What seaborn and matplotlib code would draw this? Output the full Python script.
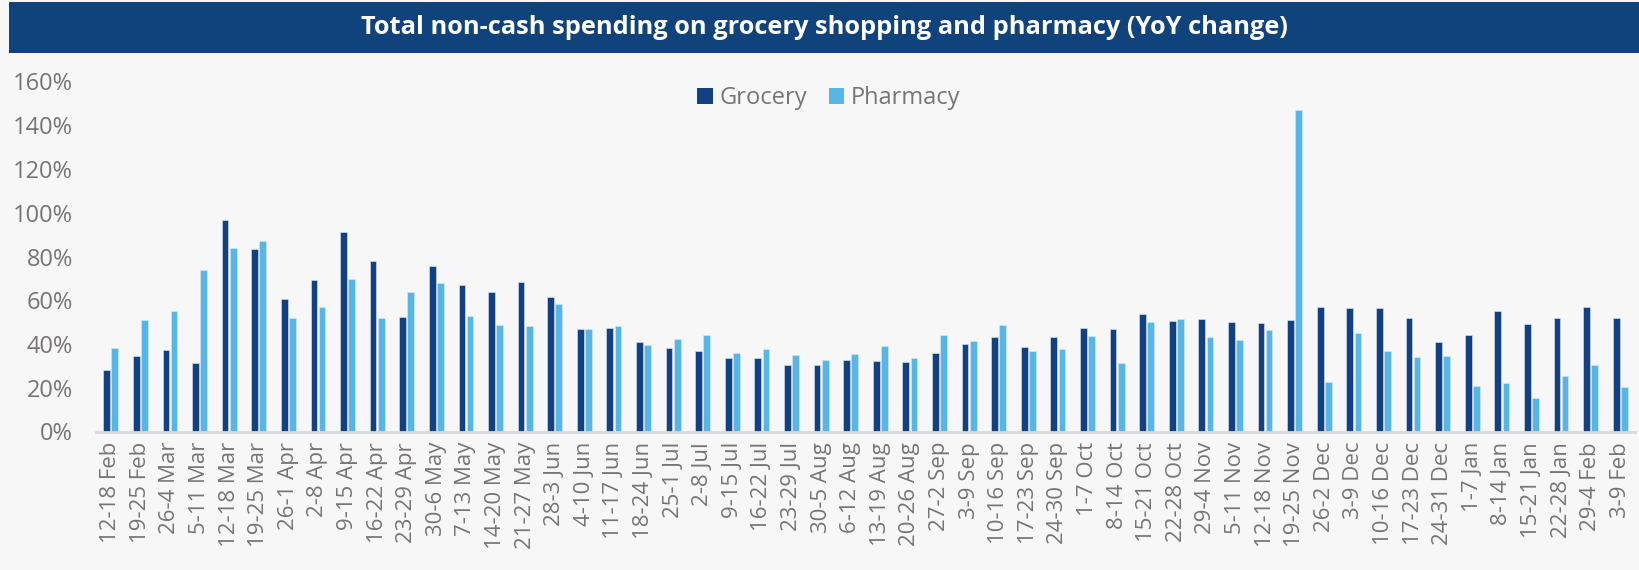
import numpy as np
import pandas as pd
import seaborn as sns
import matplotlib.pyplot as plt
from matplotlib.patches import Rectangle, Patch
from matplotlib.ticker import FuncFormatter, MultipleLocator

# ---------------- data ----------------
weeks = [
    "12-18 Feb", "19-25 Feb", "26-4 Mar", "5-11 Mar", "12-18 Mar", "19-25 Mar",
    "26-1 Apr", "2-8 Apr", "9-15 Apr", "16-22 Apr", "23-29 Apr", "30-6 May",
    "7-13 May", "14-20 May", "21-27 May", "28-3 Jun", "4-10 Jun", "11-17 Jun",
    "18-24 Jun", "25-1 Jul", "2-8 Jul", "9-15 Jul", "16-22 Jul", "23-29 Jul",
    "30-5 Aug", "6-12 Aug", "13-19 Aug", "20-26 Aug", "27-2 Sep", "3-9 Sep",
    "10-16 Sep", "17-23 Sep", "24-30 Sep", "1-7 Oct", "8-14 Oct", "15-21 Oct",
    "22-28 Oct", "29-4 Nov", "5-11 Nov", "12-18 Nov", "19-25 Nov", "26-2 Dec",
    "3-9 Dec", "10-16 Dec", "17-23 Dec", "24-31 Dec", "1-7 Jan", "8-14 Jan",
    "15-21 Jan", "22-28 Jan", "29-4 Feb", "3-9 Feb",
]
grocery = [
    28.2, 34.3, 37.2, 31.1, 96.8, 83.5, 60.6, 69.1, 91.3, 77.8, 52.4, 75.7,
    66.9, 64.0, 68.5, 61.6, 46.9, 47.5, 40.9, 38.0, 36.8, 33.5, 33.5, 30.2,
    30.6, 32.9, 32.2, 31.7, 36.0, 40.0, 43.2, 38.6, 43.0, 47.5, 46.9, 53.8,
    50.4, 51.5, 49.9, 49.6, 51.1, 57.1, 56.4, 56.5, 51.9, 40.7, 44.1, 55.0,
    49.0, 51.8, 56.7, 51.9,
]
pharmacy = [
    38.1, 51.0, 55.0, 73.8, 84.1, 87.3, 51.8, 57.1, 69.8, 51.8, 63.7, 67.8,
    52.7, 48.5, 48.2, 58.2, 46.9, 48.2, 39.5, 42.4, 44.0, 35.7, 37.5, 35.2,
    32.9, 35.4, 39.1, 33.5, 44.0, 41.2, 48.7, 36.8, 37.5, 43.6, 31.1, 49.9,
    51.3, 43.3, 41.8, 46.2, 146.9, 22.5, 45.2, 36.8, 34.0, 34.6, 21.0, 22.4,
    15.3, 25.3, 30.3, 20.2,
]
series_names = ["Grocery", "Pharmacy"]
y_ticks = [0, 20, 40, 60, 80, 100, 120, 140, 160]
title = "Total non-cash spending on grocery shopping and pharmacy (YoY change)"

# ---------------- style ----------------
BG = "#f7f7f7"
BANNER = "#10427c"
C_GROCERY = "#114181"
C_PHARMACY = "#56b6e6"
TXT = "#787474"

sns.set_theme(style="white")
plt.rcParams["font.family"] = ["Open Sans", "DejaVu Sans"]

W, H = 1639, 570
fig = plt.figure(figsize=(W / 100, H / 100), dpi=100, facecolor=BG)

# title banner
fig.patches.append(Rectangle((9 / W, 1 - 53 / H), 1 - 9 / W, 51 / H,
                             transform=fig.transFigure, facecolor=BANNER,
                             edgecolor="none", zorder=0))
fig.text(824 / W, 1 - 28 / H, title, color="white", fontsize=18.3,
         fontweight="bold", ha="center", va="center")

ax = fig.add_axes([96 / W, 1 - 431.5 / H, (1635 - 96) / W, (431.5 - 81.5) / H])
ax.set_facecolor(BG)

n = len(weeks)
df = pd.DataFrame({
    "week": weeks * 2,
    "value": grocery + pharmacy,
    "series": [series_names[0]] * n + [series_names[1]] * n,
})

sns.barplot(data=df, x="week", y="value", hue="series", order=weeks,
            hue_order=series_names, palette=[C_GROCERY, C_PHARMACY],
            width=0.55, gap=0.17, ax=ax, legend=False,
            edgecolor="#dfe7f0", linewidth=0.4, saturation=1)

ax.set_xlim(-0.5, n - 0.5)
ax.set_ylim(0, 160)
ax.set_yticks(y_ticks)
ax.yaxis.set_major_formatter(FuncFormatter(lambda v, p: f"{v:.0f}%"))
ax.set_xlabel("")
ax.set_ylabel("")

for s in ["top", "right", "left"]:
    ax.spines[s].set_visible(False)
ax.spines["bottom"].set_color("#d9d9d9")
ax.spines["bottom"].set_linewidth(2)

ax.tick_params(axis="y", length=0, pad=16.5, labelsize=17, labelcolor=TXT)
ax.tick_params(axis="x", length=0, pad=7.5, labelsize=16, labelcolor=TXT,
               rotation=90)
ax.grid(False)

handles = [Patch(facecolor=C_GROCERY, edgecolor="none"),
           Patch(facecolor=C_PHARMACY, edgecolor="none")]
fig.legend(handles, series_names, loc="center", bbox_to_anchor=(829 / W, 1 - 98 / H),
           ncol=2, frameon=False, fontsize=17, labelcolor=TXT,
           handlelength=0.65, handleheight=0.65, handletextpad=0.3,
           columnspacing=0.9)

fig.savefig("out.png", dpi=100, facecolor=BG)
